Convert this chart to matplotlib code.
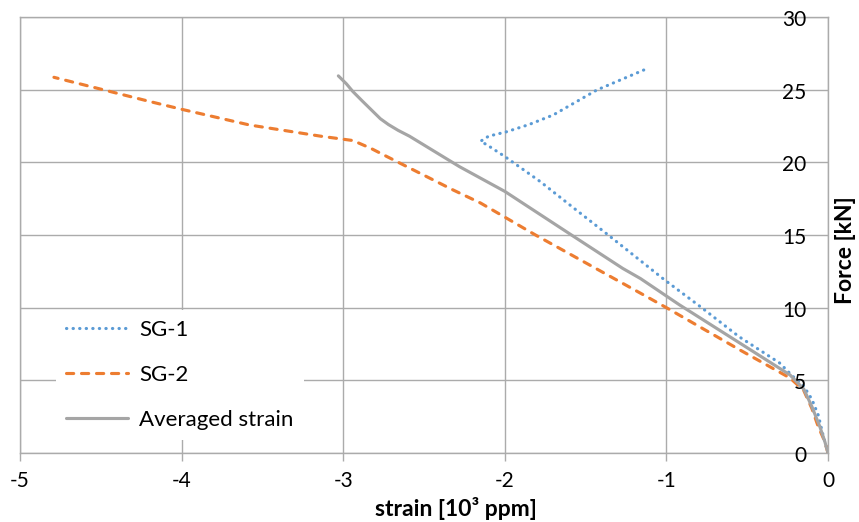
import matplotlib
matplotlib.use("Agg")
import matplotlib.pyplot as plt

# ---- data (strain in 10^3 ppm, force in kN) ----
sg1_strain = [0, -0.03, -0.06, -0.10, -0.15, -0.22, -0.30, -0.55, -0.79, -1.01,
              -1.36, -1.55, -1.78, -2.00, -2.11, -2.15, -2.10, -1.99, -1.85, -1.70, -1.43, -1.13]
sg1_force = [0, 1.2, 2.6, 3.7, 4.6, 5.3, 6.2, 8.0, 10.07, 11.9,
             15.0, 16.65, 18.67, 20.4, 21.2, 21.45, 21.8, 22.1, 22.6, 23.26, 24.98, 26.4]

sg2_strain = [0, -0.02, -0.06, -0.10, -0.15, -0.235, -0.545, -1.00, -1.14, -1.81, -2.15,
              -2.32, -2.73, -2.83, -2.94, -3.14, -3.58, -4.00, -4.195, -4.79]
sg2_force = [0, 0.8, 1.8, 3.07, 4.3, 5.16, 7.09, 10.0, 10.87, 15.0, 17.2,
             18.1, 20.4, 20.97, 21.5, 21.8, 22.57, 23.65, 24.18, 25.85]

avg_strain = [0, -0.02, -0.05, -0.10, -0.15, -0.235, -0.545, -0.92, -1.00, -1.16, -1.27,
              -1.56, -2.00, -2.28, -2.59, -2.66, -2.72, -2.77, -2.88, -2.94, -2.98, -3.03]
avg_force = [0, 0.8, 1.8, 3.2, 4.4, 5.37, 7.56, 10.2, 10.8, 12.0, 12.7,
             14.8, 18.0, 19.7, 21.8, 22.2, 22.6, 23.0, 24.2, 24.87, 25.4, 25.95]

x_ticks = [-5, -4, -3, -2, -1, 0]
y_ticks = [0, 5, 10, 15, 20, 25, 30]
labels = ["SG-1", "SG-2", "Averaged strain"]

plt.rcParams['font.family'] = ['Lato', 'DejaVu Sans']

W, H = 859, 522
fig = plt.figure(figsize=(W / 100, H / 100), dpi=100)
ax = fig.add_axes([20 / W, 1 - 453 / H, (828 - 20) / W, (453 - 17) / H])

grid_c = '#ABABAB'
ax.plot(sg1_strain, sg1_force, color='#5B9BD5', lw=2.25, linestyle=(0, (0.1, 2.0)),
        dash_capstyle='round', label=labels[0], zorder=3)
ax.plot(sg2_strain, sg2_force, color='#ED7D31', lw=2.25, linestyle=(0, (2.3, 2.5)),
        dash_capstyle='round', label=labels[1], zorder=4)
ax.plot(avg_strain, avg_force, color='#A5A5A5', lw=2.25, solid_capstyle='round',
        label=labels[2], zorder=5)

ax.set_xlim(-5, 0)
ax.set_ylim(0, 30)
ax.set_xticks(x_ticks)
ax.set_yticks(y_ticks)
ax.set_xticklabels([str(v) for v in x_ticks])
ax.set_yticklabels([str(v) for v in y_ticks])

ax.grid(True, color=grid_c, lw=1.0)
ax.set_axisbelow(True)
for s in ax.spines.values():
    s.set_color(grid_c)
    s.set_linewidth(1.0)

ax.tick_params(axis='x', direction='out', length=5.8, width=1.0, color=grid_c,
               labelsize=15, pad=7, labelcolor='#000000')
ax.tick_params(axis='y', length=0, left=False, labelleft=False,
               right=False, labelright=False)

# y tick labels drawn left of the right spine
for v in y_ticks:
    ax.text(-0.135, v - 0.2, str(v), ha='right', va='center', fontsize=15,
            color='#000000', zorder=6)

ax.set_xlabel("strain [10³ ppm]", fontsize=16.5, fontweight='bold')
ax.xaxis.set_label_coords((456 - 20) / 808, -(509 - 453) / 436)
ax.xaxis.label.set_va('center')

fig.text(846 / W, 1 - 250 / H, "Force [kN]", rotation=90, fontsize=16.5,
         fontweight='bold', ha='center', va='center')

leg = ax.legend(loc='upper left', bbox_to_anchor=((56 - 20) / 808, 1 - (310 - 17) / 436),
                frameon=True, fancybox=False, fontsize=16, handlelength=2.8,
                handletextpad=0.5, labelspacing=1.12, borderpad=0.45,
                borderaxespad=0)
leg.get_frame().set_facecolor('white')
leg.get_frame().set_edgecolor('none')
leg.get_frame().set_alpha(1.0)
leg.set_zorder(10)

fig.savefig("out.png", dpi=100)
